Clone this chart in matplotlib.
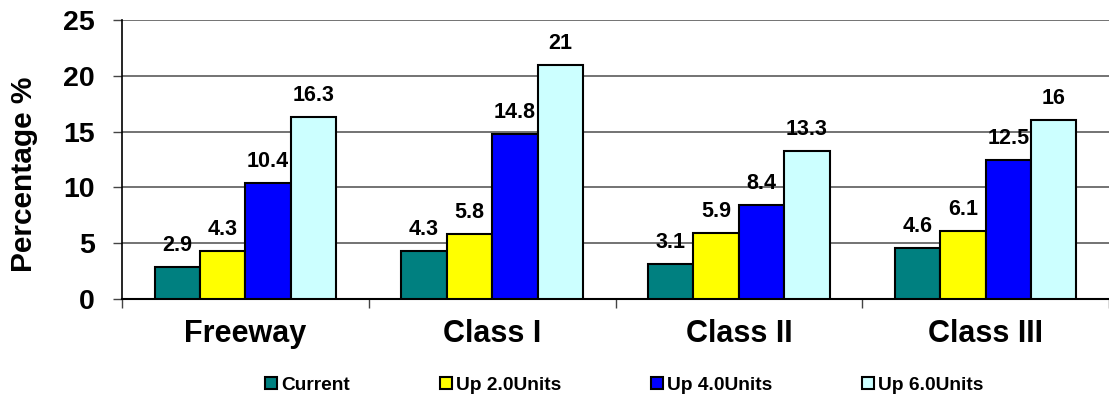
import matplotlib
matplotlib.use("Agg")
import matplotlib.pyplot as plt
import numpy as np

categories = ["Freeway", "Class I", "Class II", "Class III"]
series_names = ["Current", "Up 2.0Units", "Up 4.0Units", "Up 6.0Units"]
current = [2.9, 4.3, 3.1, 4.6]
up2 = [4.3, 5.8, 5.9, 6.1]
up4 = [10.4, 14.8, 8.4, 12.5]
up6 = [16.3, 21, 13.3, 16]
colors = ["#008080", "#FFFF00", "#0000FF", "#CCFFFF"]
yticks = [0, 5, 10, 15, 20, 25]

plt.rcParams['font.family'] = ["Liberation Sans", "DejaVu Sans"]

fig = plt.figure(figsize=(11.09, 3.96), dpi=100)
ax = fig.add_axes([122/1109, 1-299/396, 1-122/1109, (299-20)/396])

x = np.arange(len(categories))
w = 0.184
data = [current, up2, up4, up6]
bars_all = []
for i, (vals, c, n) in enumerate(zip(data, colors, series_names)):
    bars = ax.bar(x + (i - 1.5) * w, vals, w, color=c, edgecolor="black",
                  linewidth=1.5, label=n, zorder=3)
    bars_all.append(bars)
    for b, v in zip(bars, vals):
        ax.annotate(f"{v:g}", (b.get_x() + b.get_width()/2, v),
                    xytext=(0, 11.5), textcoords="offset points",
                    ha="center", va="baseline", fontsize=15.5, fontweight="bold", zorder=4)

ax.set_xlim(-0.5, 3.5)
ax.set_ylim(0, 25)
ax.set_yticks(yticks)
ax.set_yticklabels([str(t) for t in yticks], fontsize=20.5, fontweight="bold")
ax.yaxis.grid(True, color="#4d4d4d", linewidth=1.1, zorder=0)
ax.set_axisbelow(True)
ax.set_xticks(x)
ax.set_xticklabels(categories, fontsize=22, fontweight="bold")
ax.tick_params(axis="x", length=0, pad=14.5)
ax.set_xticks(np.arange(-0.5, 4.0, 1.0), minor=True)
ax.tick_params(axis="x", which="minor", length=6.5, width=1, color="#444444")
ax.tick_params(axis="y", length=6.5, width=1, color="#444444", pad=13)
for s in ["top", "right"]:
    ax.spines[s].set_visible(False)
ax.spines["left"].set_linewidth(1.2)
ax.spines["bottom"].set_linewidth(1.5)
ax.set_ylabel("Percentage %", fontsize=21.5, fontweight="bold", ha="center", va="center")
ax.yaxis.set_label_coords((24-122)/987, (299-174.5)/279)

leg = fig.legend(handles=bars_all, labels=series_names, loc="center",
                 bbox_to_anchor=(0.563, 1-385/396), ncol=4, frameon=False,
                 handlelength=0.62, handleheight=0.62, handletextpad=0.2,
                 columnspacing=4.7,
                 prop={"weight": "bold", "size": 13.8})

fig.savefig("out.png", dpi=100)
